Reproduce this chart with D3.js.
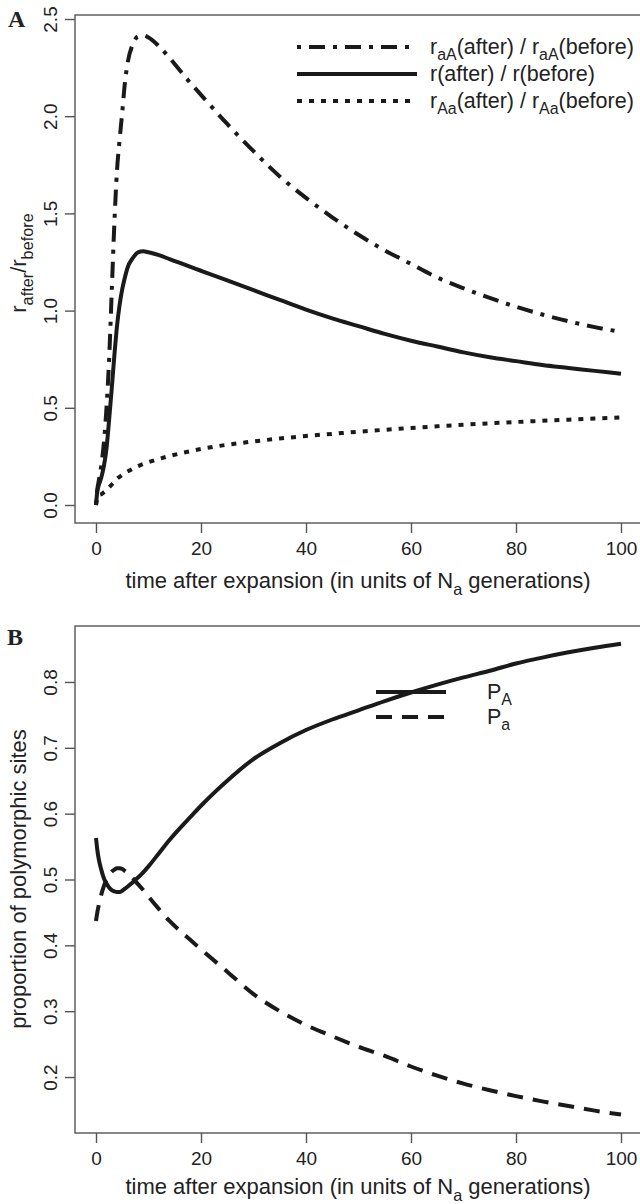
<!DOCTYPE html>
<html><head><meta charset="utf-8">
<script src="https://cdn.jsdelivr.net/npm/d3@7"></script>
<style>
html,body{margin:0;padding:0;background:#fff;}
svg{display:block;font-family:"Liberation Sans",Arial,Helvetica,sans-serif;}
</style></head>
<body>
<svg id="chart" width="640" height="1204"></svg>
<script>
// ---------- data ----------
const time = [0,0.25,0.5,1,1.5,2,2.5,3,3.5,4,4.5,5,5.5,6,7,8,9,10,12,14,16,18,20,25,30,35,40,45,50,55,60,65,70,75,80,85,90,95,100];
// Panel A
const rAA = [0,0.08,0.12,0.2,0.32,0.5,0.75,1.1,1.45,1.72,1.88,2.02,2.17,2.27,2.37,2.41,2.415,2.405,2.36,2.3,2.235,2.17,2.11,1.96,1.82,1.69,1.58,1.48,1.39,1.31,1.24,1.17,1.115,1.065,1.02,0.98,0.945,0.915,0.89];
const rAll = [0,0.07,0.1,0.14,0.2,0.29,0.44,0.6,0.77,0.92,1.03,1.11,1.17,1.22,1.27,1.3,1.305,1.3,1.285,1.265,1.245,1.225,1.205,1.155,1.105,1.055,1.005,0.96,0.92,0.88,0.845,0.815,0.785,0.76,0.74,0.72,0.705,0.69,0.675];
const rAa = [0,0.04,0.05,0.055,0.065,0.075,0.09,0.105,0.12,0.135,0.145,0.155,0.165,0.172,0.187,0.2,0.211,0.22,0.237,0.252,0.265,0.277,0.288,0.31,0.327,0.342,0.355,0.366,0.377,0.387,0.396,0.405,0.413,0.42,0.427,0.433,0.439,0.445,0.45];
// Panel B
const pA = [0.563,0.545,0.532,0.515,0.502,0.494,0.488,0.484,0.482,0.481,0.481,0.483,0.486,0.489,0.496,0.503,0.511,0.52,0.54,0.56,0.578,0.595,0.612,0.65,0.683,0.707,0.727,0.743,0.757,0.771,0.784,0.796,0.807,0.817,0.828,0.837,0.845,0.852,0.858];
const pa = [0.437,0.45,0.46,0.477,0.49,0.5,0.507,0.512,0.515,0.517,0.517,0.516,0.513,0.51,0.502,0.493,0.484,0.474,0.455,0.437,0.422,0.408,0.394,0.36,0.326,0.3,0.279,0.262,0.246,0.232,0.216,0.202,0.19,0.18,0.171,0.163,0.156,0.149,0.143];
// ticks
const xTicks = [0,20,40,60,80,100];
const yTicksA = [0,0.5,1,1.5,2,2.5];
const yTicksB = [0.2,0.3,0.4,0.5,0.6,0.7,0.8];

// ---------- drawing ----------
const svg = d3.select("#chart");
const AX = "#555", INK = "#1a1a1a", TXT = "#222";
const TICKFS = 19, LABFS = 22, LEGFS = 21.5;

function rich(g, x, y, parts, fs, opts={}) {
  const t = g.append("text").attr("x", x).attr("y", y)
    .attr("font-size", fs).attr("fill", TXT)
    .attr("text-anchor", opts.anchor || "start");
  if (opts.transform) t.attr("transform", opts.transform);
  let down = false;
  parts.forEach(p => {
    const s = t.append("tspan").text(p.t);
    if (p.sub && !down) { s.attr("dy", fs*0.3).attr("font-size", fs*0.74); down = true; }
    else if (p.sub) { s.attr("font-size", fs*0.74); }
    else if (down) { s.attr("dy", -fs*0.3); down = false; }
  });
  return t;
}

function panel(cfg) {
  const g = svg.append("g");
  const x = d3.scaleLinear().domain([-4,104]).range([75,642]);
  const y = d3.scaleLinear().domain(cfg.yDomain).range([cfg.bottom, cfg.top]);

  // box
  g.append("rect").attr("x",75).attr("y",cfg.top).attr("width",567).attr("height",cfg.bottom-cfg.top)
    .attr("fill","none").attr("stroke",AX).attr("stroke-width",1.4);

  // x axis
  const xa = g.append("g").attr("transform",`translate(0,${cfg.bottom})`)
    .call(d3.axisBottom(x).tickValues(xTicks).tickSize(10).tickFormat(d3.format("d")));
  xa.select(".domain").remove();
  xa.selectAll("line").attr("stroke",AX).attr("stroke-width",1.4);
  xa.selectAll("text").attr("y",cfg.xLabOff).attr("dy",0).attr("font-size",TICKFS)
    .attr("fill",TXT).attr("font-family",null);

  // y axis
  const ya = g.append("g").attr("transform","translate(75,0)")
    .call(d3.axisLeft(y).tickValues(cfg.yTicks).tickSize(10).tickFormat(d3.format(".1f")));
  ya.select(".domain").remove();
  ya.selectAll("line").attr("stroke",AX).attr("stroke-width",1.4);
  ya.selectAll("text").attr("transform","rotate(-90)").attr("x",0).attr("y",-18).attr("dy",0)
    .attr("text-anchor","middle").attr("font-size",TICKFS).attr("fill",TXT).attr("font-family",null);

  // x title
  rich(g, 358, cfg.bottom + cfg.xTitleOff,
    [{t:"time after expansion (in units of N"},{t:"a",sub:true},{t:" generations)"}],
    LABFS, {anchor:"middle"});
  // y title
  rich(g, 0, 0, cfg.yTitle, LABFS,
    {anchor:"middle", transform:`translate(26,${cfg.yTitleY}) rotate(-90)`});

  // panel letter
  g.append("text").attr("x",cfg.letterX).attr("y",cfg.letterY).text(cfg.letter)
    .attr("font-family","'Liberation Serif','Times New Roman',serif").attr("font-weight","bold")
    .attr("font-size",24).attr("fill",TXT);

  // curves
  const line = d3.line().x(d=>x(d[0])).y(d=>y(d[1])).curve(d3.curveMonotoneX);
  cfg.series.forEach(s => {
    g.append("path").datum(time.map((t,i)=>[t,s.values[i]]))
      .attr("d",line).attr("fill","none").attr("stroke",INK).attr("stroke-width",4)
      .attr("stroke-dasharray",s.dash || null).attr("stroke-linecap","butt").attr("stroke-linejoin","round");
  });

  // legend
  const lg = cfg.legend;
  lg.items.forEach((it,i) => {
    const yy = lg.y0 + i*lg.dy;
    g.append("line").attr("x1",lg.x1).attr("x2",lg.x2).attr("y1",yy).attr("y2",yy)
      .attr("stroke",INK).attr("stroke-width",4).attr("stroke-dasharray",it.dash || null);
    rich(g, lg.tx, yy+7, it.label, LEGFS);
  });
}

const DOTDASH = "4,8,16,8", DOTTED = "5,7", DASHED = "16,10";

panel({
  top:15, bottom:523, yDomain:[-0.0926,2.5206], yTicks:yTicksA,
  xLabOff:32, xTitleOff:65, letter:"A", letterX:8, letterY:27,
  yTitle:[{t:"r"},{t:"after",sub:true},{t:"/r"},{t:"before",sub:true}], yTitleY:263,
  series:[{values:rAA,dash:DOTDASH},{values:rAll},{values:rAa,dash:DOTTED}],
  legend:{x1:297,x2:417,tx:430,y0:47,dy:27,items:[
    {dash:DOTDASH,label:[{t:"r"},{t:"aA",sub:true},{t:"(after) / r"},{t:"aA",sub:true},{t:"(before)"}]},
    {dash:null,label:[{t:"r(after) / r(before)"}]},
    {dash:DOTTED,label:[{t:"r"},{t:"Aa",sub:true},{t:"(after) / r"},{t:"Aa",sub:true},{t:"(before)"}]}
  ]}
});

panel({
  top:626, bottom:1133, yDomain:[0.115,0.885], yTicks:yTicksB,
  xLabOff:32, xTitleOff:61, letter:"B", letterX:7, letterY:645,
  yTitle:[{t:"proportion of polymorphic sites"}], yTitleY:879,
  series:[{values:pA},{values:pa,dash:DASHED}],
  legend:{x1:376,x2:446,tx:487,y0:692,dy:25,items:[
    {dash:null,label:[{t:"P"},{t:"A",sub:true}]},
    {dash:DASHED,label:[{t:"P"},{t:"a",sub:true}]}
  ]}
});
</script>
</body></html>
